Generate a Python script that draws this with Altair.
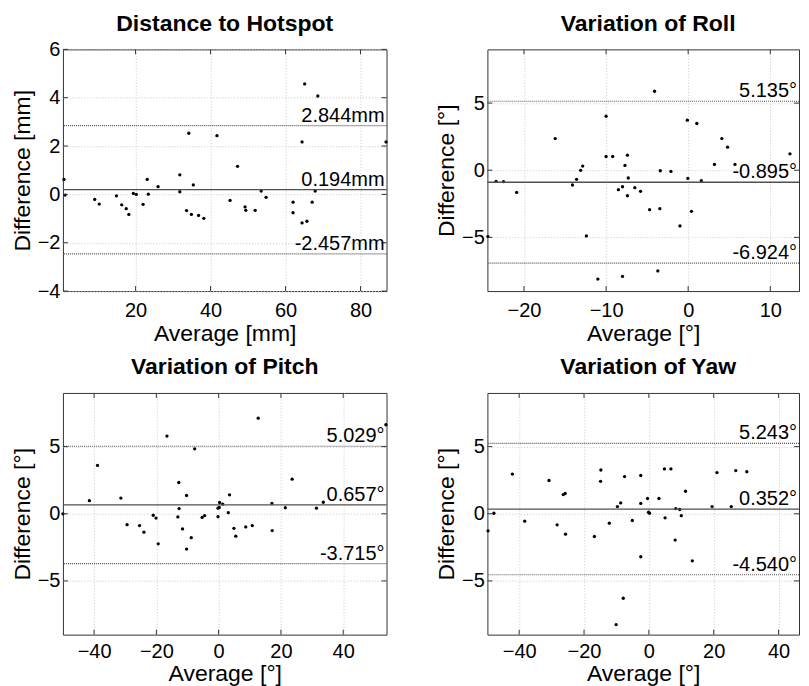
import altair as alt
import pandas as pd

# ---------------- data ----------------
hot_x = [0.9, 1.2, 9.1, 10.3, 14.9, 16.3, 17.5, 18.2, 19.4, 20.2, 22.0, 23.1, 23.4, 26.0,
         31.8, 31.8, 34.2, 33.6, 34.9, 35.4, 36.8, 38.2, 41.7, 45.2, 47.2, 49.2, 49.4,
         51.9, 53.5, 54.8, 62.0, 62.0, 64.4, 64.4, 65.1, 65.7, 67.1, 67.9, 68.6, 86.8]
hot_y = [0.62, -0.03, -0.21, -0.40, -0.06, -0.43, -0.59, -0.83, 0.04, 0.00, -0.41, 0.62,
         0.01, 0.32, 0.81, 0.11, 2.53, -0.67, -0.83, 0.39, -0.87, -0.99, 2.43, -0.25, 1.16,
         -0.52, -0.66, -0.66, 0.14, -0.12, -0.32, -0.76, 2.17, -1.18, 4.57, -1.11, -0.32,
         0.14, 4.07, 2.17]
hot_stats = [2.844, 0.194, -2.457]

roll_x = [-24.4, -23.4, -22.5, -20.9, -16.2, -14.1, -13.6, -13.1, -12.85, -12.4, -11.0,
          -10.0, -10.0, -9.2, -8.5, -8.0, -8.0, -7.7, -7.4, -7.3, -7.4, -6.5, -5.8, -4.7,
          -4.1, -3.7, -3.45, -3.4, -2.1, -1.0, -0.1, -0.04, 0.4, 1.05, 1.6, 3.2, 4.1, 4.8,
          5.7, 12.4]
roll_y = [-4.94, -0.83, -0.85, -1.65, 2.36, -1.10, -0.68, -0.01, 0.31, -4.89, -8.11, 4.02,
          1.02, 1.02, -1.45, -1.23, -7.91, 0.36, 1.12, -0.58, -1.90, -1.30, -1.57, -2.94,
          5.88, -7.50, -2.86, -0.04, -0.09, -4.15, 3.73, -0.61, -3.06, 3.48, -0.78, 0.43,
          2.36, 1.72, 0.43, 1.22]
roll_stats = [5.135, -0.895, -6.924]

pitch_x = [-50.0, -41.5, -38.9, -31.4, -29.4, -25.4, -24.0, -21.0, -20.1, -19.4, -16.6,
           -13.1, -12.8, -12.7, -11.6, -10.3, -10.3, -8.8, -7.7, -5.3, -4.5, -0.2, -0.2,
           0.2, 0.3, 1.3, 3.1, 3.5, 4.9, 5.5, 8.7, 10.8, 12.7, 17.1, 17.2, 21.4, 23.6,
           31.4, 33.6, 53.7]
pitch_y = [0.0, 0.98, 3.6, 1.17, -0.81, -0.88, -1.37, -0.11, -0.32, -2.24, 5.79, -0.23,
           2.33, 0.39, -1.13, 1.36, -2.63, -1.78, 4.84, -0.27, -0.13, -0.22, 0.42, 0.47,
           0.84, 0.72, 0.08, 1.41, -1.08, -1.67, -0.98, -0.88, 7.12, 0.77, -1.25, 0.45,
           2.58, 0.42, 0.86, 6.63]
pitch_stats = [5.029, 0.657, -3.715]

yaw_x = [-49.6, -47.8, -42.1, -38.3, -30.8, -28.3, -26.4, -25.8, -25.7, -16.8, -14.8,
         -14.9, -12.2, -10.1, -9.7, -8.7, -7.9, -7.5, -5.1, -2.5, -2.5, -2.5, -0.4, -0.1,
         0.2, 3.1, 4.8, 5.0, 6.8, 8.1, 8.3, 9.5, 10.0, 11.3, 13.4, 19.5, 21.0, 25.4, 26.8,
         30.2]
yaw_y = [-1.27, 0.04, 2.96, -0.55, 2.48, -0.82, 1.43, 1.51, -1.52, -1.69, 3.26, 2.42,
         -0.70, -8.25, 0.54, 0.81, -6.29, 2.77, -0.50, 0.77, 2.85, -3.20, 1.14, 0.12, 0.04,
         1.14, 3.34, -0.30, 3.34, -1.96, 0.39, 0.32, -0.14, 1.68, -3.50, 0.54, 3.07, 0.54,
         3.22, 3.13]
yaw_stats = [5.243, 0.352, -4.540]

titles = ["Distance to Hotspot", "Variation of Roll", "Variation of Pitch", "Variation of Yaw"]
units = ["mm", "°", "°", "°"]
x_titles = ["Average [mm]", "Average [°]", "Average [°]", "Average [°]"]
y_titles = ["Difference [mm]", "Difference [°]", "Difference [°]", "Difference [°]"]
x_domains = [[0.62, 86.93], [-24.46, 13.5], [-50.0, 53.9], [-49.8, 46.3]]
y_domains = [[-4, 6], [-9, 9], [-9, 9], [-9, 9]]
x_ticks = [[20, 40, 60, 80], [-20, -10, 0, 10], [-40, -20, 0, 20, 40], [-40, -20, 0, 20, 40]]
y_ticks = [[-4, -2, 0, 2, 4, 6], [-5, 0, 5], [-5, 0, 5], [-5, 0, 5]]

FONT = "Liberation Sans"
WIDTHS = [324, 312, 324, 312]
H = 242
TICK_LEN = 5
TITLE_OFFSETS = [3, 13, 13, 13]
TITLE_DX = [0, 5, 0, 5]
X_LABEL_PAD = [9, 9, 7, 7]
X_TITLE_PAD = [2, 2, 1, 1]
BORDER = "#333333"


def panel(i, xs, ys, stats):
    W = WIDTHS[i]
    pts = pd.DataFrame({"x": xs, "y": ys})
    lines = pd.DataFrame({
        "v": stats,
        "kind": ["limit", "mean", "limit"],
        "label": [f"{v:.3f}{units[i]}" for v in stats],
        "xr": [x_domains[i][1]] * 3,
    })
    xt = pd.DataFrame({"t": x_ticks[i]})
    yt = pd.DataFrame({"t": y_ticks[i]})
    xs_ = alt.Scale(domain=x_domains[i], nice=False, zero=False)
    ys_ = alt.Scale(domain=y_domains[i], nice=False, zero=False)
    xax = alt.Axis(values=x_ticks[i], title=x_titles[i],
                   labelPadding=X_LABEL_PAD[i], titlePadding=X_TITLE_PAD[i])
    yax = alt.Axis(values=y_ticks[i], title=y_titles[i])

    points = alt.Chart(pts).mark_circle(size=11, color="black", opacity=1).encode(
        x=alt.X("x:Q", scale=xs_, axis=xax),
        y=alt.Y("y:Q", scale=ys_, axis=yax),
    )
    mean = alt.Chart(lines[lines.kind == "mean"]).mark_rule(
        color="#505050", strokeWidth=1.3).encode(
        y=alt.Y("v:Q", scale=ys_, axis=yax))
    limits = alt.Chart(lines[lines.kind == "limit"]).mark_rule(
        color="#555555", strokeWidth=1.2, strokeDash=[1, 1]).encode(
        y=alt.Y("v:Q", scale=ys_, axis=yax))
    labels = alt.Chart(lines).mark_text(
        align="right", baseline="alphabetic", dx=-2, dy=-4, fontSize=20, font=FONT,
        color="black").encode(
        x=alt.X("xr:Q", scale=xs_, axis=xax),
        y=alt.Y("v:Q", scale=ys_, axis=yax),
        text="label:N")

    # inward tick marks on all four sides (MATLAB style box)
    xtick_b = alt.Chart(xt).mark_rule(color=BORDER, strokeWidth=1).encode(
        x=alt.X("t:Q", scale=xs_, axis=xax), y=alt.value(H), y2=alt.value(H - TICK_LEN))
    xtick_t = alt.Chart(xt).mark_rule(color=BORDER, strokeWidth=1).encode(
        x=alt.X("t:Q", scale=xs_, axis=xax), y=alt.value(0), y2=alt.value(TICK_LEN))
    ytick_l = alt.Chart(yt).mark_rule(color=BORDER, strokeWidth=1).encode(
        y=alt.Y("t:Q", scale=ys_, axis=yax), x=alt.value(0), x2=alt.value(TICK_LEN))
    ytick_r = alt.Chart(yt).mark_rule(color=BORDER, strokeWidth=1).encode(
        y=alt.Y("t:Q", scale=ys_, axis=yax), x=alt.value(W), x2=alt.value(W - TICK_LEN))

    return alt.layer(points, limits, mean, xtick_b, xtick_t, ytick_l, ytick_r,
                     labels).properties(
        width=W, height=H,
        title=alt.TitleParams(titles[i], offset=TITLE_OFFSETS[i], dx=TITLE_DX[i]))


charts = [
    panel(0, hot_x, hot_y, hot_stats),
    panel(1, roll_x, roll_y, roll_stats),
    panel(2, pitch_x, pitch_y, pitch_stats),
    panel(3, yaw_x, yaw_y, yaw_stats),
]

chart = alt.concat(*charts, columns=2, spacing={"row": 102, "column": 101},
                   bounds="flush").properties(
    padding={"left": 2, "top": 4, "right": 0, "bottom": 0}
).configure_view(
    stroke=BORDER, strokeWidth=1
).configure_axis(
    labelFont=FONT, labelFontSize=20, labelColor="black",
    titleFont=FONT, titleFontSize=23, titleFontWeight="normal", titleColor="black",
    grid=True, gridColor="#c8c8c8", gridDash=[1, 2], gridWidth=1,
    domain=False, ticks=False, tickSize=0,
    labelFlush=False, labelOverlap=False, labelBound=False,
).configure_axisY(
    labelPadding=3, titlePadding=3
).configure_title(
    font=FONT, fontSize=23, fontWeight="bold", color="black", anchor="middle"
)

chart.save("out.html", embed_options={"renderer": "svg", "actions": False})
